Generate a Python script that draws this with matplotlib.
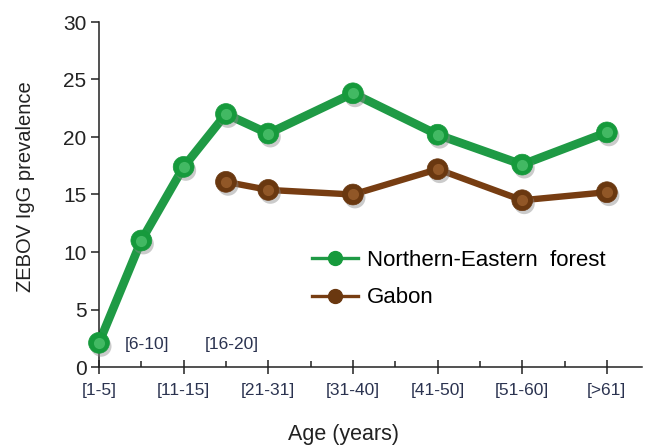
import numpy as np
import matplotlib.pyplot as plt
from matplotlib.lines import Line2D
from matplotlib import patheffects as pe

plt.rcParams["font.family"] = ["Liberation Sans", "DejaVu Sans"]

# data
age_groups = ["[1-5]", "[6-10]", "[11-15]", "[16-20]", "[21-31]",
              "[31-40]", "[41-50]", "[51-60]", "[>61]"]
age_pos = [0, 1, 2, 3, 4, 6, 8, 10, 12]
forest = [2.1, 11.0, 17.4, 22.0, 20.3, 23.8, 20.2, 17.6, 20.4]
gabon = [np.nan, np.nan, np.nan, 16.1, 15.4, 15.0, 17.2, 14.5, 15.2]

series = [
    ("Northern-Eastern  forest", forest, "#1f9a45", "#169a3c", "#6fd88a", 6.2),
    ("Gabon", gabon, "#773d12", "#6a3810", "#b9773f", 4.6),
]

fig = plt.figure(figsize=(6.46, 4.48), dpi=100)
ax = fig.add_axes([99 / 646, 1 - 367 / 448, 543 / 646, 345 / 448])

shadow = [pe.SimplePatchShadow(offset=(1.5, -2.5), shadow_rgbFace="0.55", alpha=0.45), pe.Normal()]
handles = []
for label, vals, lc, mc, hc, lw in series:
    ax.plot(age_pos, vals, color=lc, lw=lw, solid_capstyle="round", zorder=2)
    ax.plot(age_pos, vals, ls="none", marker="o", ms=15, mfc=mc, mec=mc,
            mew=0.5, zorder=3, clip_on=False, path_effects=shadow)
    # small highlight to get the glossy bead look
    ax.plot(age_pos, vals, ls="none", marker="o", ms=8, mfc=hc, mec="none",
            alpha=0.5, zorder=4, clip_on=False)
    handles.append(Line2D([], [], color=lc, lw=2.4, marker="o", ms=10,
                          mfc=mc, mec=mc, label=label))

ax.set_xlim(0, 12.83)
ax.set_ylim(0, 30)
ax.set_yticks(range(0, 31, 5))

major_idx = [i for i, p in enumerate(age_pos) if p % 2 == 0]
minor_idx = [i for i, p in enumerate(age_pos) if p % 2 == 1]
ax.set_xticks([age_pos[i] for i in major_idx])
ax.set_xticklabels([age_groups[i] for i in major_idx])
ax.set_xticks(np.arange(1, 12, 2), minor=True)
for i in minor_idx:
    ax.annotate(age_groups[i], xy=(age_pos[i], 0.064),
                xycoords=("data", "axes fraction"), xytext=(4, 0),
                textcoords="offset points", ha="center", va="center",
                fontsize=12.5, color="#2b3350")

for s in ["top", "right"]:
    ax.spines[s].set_visible(False)
for s in ["left", "bottom"]:
    ax.spines[s].set_linewidth(1.1)
    ax.spines[s].set_color("#222222")

ax.tick_params(axis="y", direction="out", length=6, width=1.1,
               labelsize=15, pad=3, colors="#222222")
ax.tick_params(axis="x", which="major", direction="inout", length=10,
               width=1.1, labelsize=12.5, pad=6.5, colors="#222222",
               labelcolor="#2b3350")
ax.tick_params(axis="x", which="minor", direction="in", length=4,
               width=1.1, colors="#222222")

ax.set_ylabel("ZEBOV IgG prevalence", fontsize=14.5, color="#222222")
ax.yaxis.set_label_coords(-0.118, 0.522)
ax.set_xlabel("Age (years)", fontsize=15.5, color="#222222")
ax.xaxis.set_label_coords((343 - 99) / 543, -0.165)

ax.legend(handles=handles, loc="upper left", bbox_to_anchor=(0.392, 0.34),
          frameon=False, fontsize=16, handlelength=2.07, handletextpad=0.4,
          labelspacing=0.75, borderpad=0, borderaxespad=0)

fig.savefig("out.png", dpi=100)
